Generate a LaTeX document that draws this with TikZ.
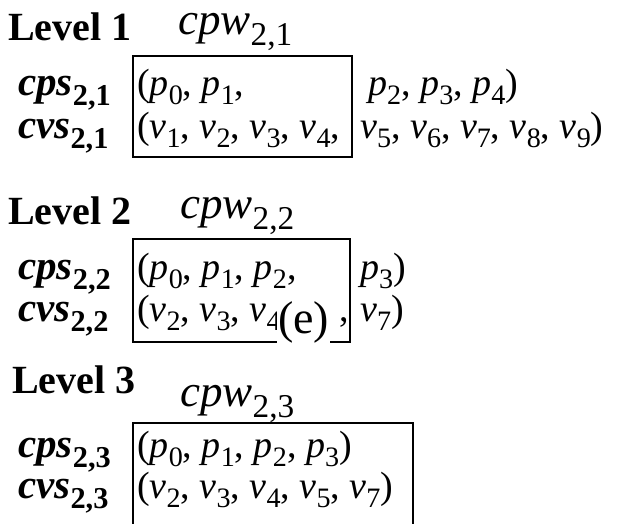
\documentclass[tikz,border=0pt]{standalone}
\usepackage{fontspec}
\setmainfont{Liberation Serif}
\usetikzlibrary{positioning}

% subscripts the way the figure sets them
\newcommand\sbs[1]{\raisebox{-0.26em}{\scalebox{0.74}{#1}}}
\newcommand\ip[2]{\textit{#1}\sbs{#2}}
\newcommand\lab[2]{\textbf{\textit{#1}}\sbs{\textbf{#2}}}

\tikzset{
  lvl/.style={anchor=base west, inner sep=0pt, font=\fontsize{40}{44}\selectfont\bfseries},
  win/.style={anchor=base west, inner sep=0pt, font=\fontsize{45}{50}\selectfont},
  rowlab/.style={anchor=base west, inner sep=0pt, font=\fontsize{41}{46}\selectfont},
  seq/.style={anchor=base west, inner sep=0pt, font=\fontsize{38}{42}\selectfont},
  winbox/.style={draw, line width=2.6pt}
}

\begin{document}
\begin{tikzpicture}[x=1pt, y=-1pt]
\useasboundingbox (0,0) rectangle (617,523);

% level 1
\node[lvl] (lv1) at (8,40) {Level 1};
\node[win] (cpw1) at (178,34) {\ip{cpw}{2,1}};
\draw[winbox] (133,56) rectangle (352,157);
\node[rowlab] (cps1) at (18,95) {\lab{cps}{2,1}};
\node[rowlab] (cvs1) at (18,138) {\lab{cvs}{2,1}};
\node[seq] (cps1a) at (137,95) {(\ip{p}{0}, \ip{p}{1},};
\node[seq] (cps1b) at (368,95) {\ip{p}{2}, \ip{p}{3}, \ip{p}{4})};
\node[seq] (cvs1a) at (137,138) {(\ip{v}{1}, \ip{v}{2}, \ip{v}{3}, \ip{v}{4},};
\node[seq] (cvs1b) at (360,138) {\ip{v}{5}, \ip{v}{6}, \ip{v}{7}, \ip{v}{8}, \ip{v}{9})};

% level 2
\node[lvl] (lv2) at (8,224) {Level 2};
\node[win] (cpw2) at (180,218) {\ip{cpw}{2,2}};
\draw[winbox] (133,239) rectangle (350,342);
\node[rowlab] (cps2) at (18,279) {\lab{cps}{2,2}};
\node[rowlab] (cvs2) at (18,321) {\lab{cvs}{2,2}};
\node[seq] (cps2a) at (137,279) {(\ip{p}{0}, \ip{p}{1}, \ip{p}{2},};
\node[seq] (cps2b) at (360,279) {\ip{p}{3})};
\node[seq] (cvs2a) at (137,321) {(\ip{v}{2}, \ip{v}{3}, \ip{v}{4}};
\node[seq] (comma) at (339,321) {,};
\node[seq] (cvs2b) at (360,321) {\ip{v}{7})};
\node[anchor=base west, fill=white, inner sep=1pt, font=\fontsize{46}{50}\selectfont] (tag) at (277,333) {(e)};

% level 3
\node[lvl] (lv3) at (12,393) {Level 3};
\node[win] (cpw3) at (180,406) {\ip{cpw}{2,3}};
\draw[winbox] (133,530) -- (133,423) -- (413,423) -- (413,530);
\node[rowlab] (cps3) at (18,457) {\lab{cps}{2,3}};
\node[rowlab] (cvs3) at (18,498) {\lab{cvs}{2,3}};
\node[seq] (cps3a) at (137,457) {(\ip{p}{0}, \ip{p}{1}, \ip{p}{2}, \ip{p}{3})};
\node[seq] (cvs3a) at (137,498) {(\ip{v}{2}, \ip{v}{3}, \ip{v}{4}, \ip{v}{5}, \ip{v}{7})};
\end{tikzpicture}
\end{document}
